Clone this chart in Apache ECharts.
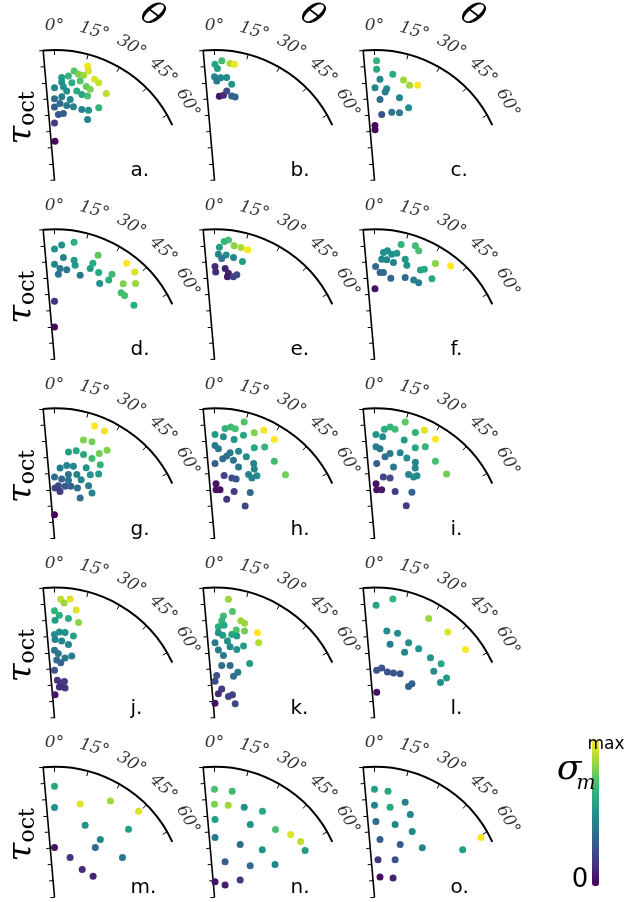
<!DOCTYPE html>
<html>
<head>
<meta charset="utf-8">
<script src="https://cdn.jsdelivr.net/npm/echarts@6/dist/echarts.min.js"></script>
<style>
html, body { margin: 0; padding: 0; background: #fff; }
#chart { width: 626px; height: 902px; }
</style>
</head>
<body>
<div id="chart"></div>
<script>
// Each point: [tau_oct, theta (deg), normalised sigma_m^max]
const panelA = [[7.31,16.2,0.98],[7.03,17.3,0.95],[6.82,10.2,0.72],[6.67,12.8,0.80],[6.46,7.6,0.65],[6.69,15.5,0.85],[6.32,4.0,0.55],[6.67,21.7,0.95],[6.58,24.4,0.92],[6.05,4.2,0.50],[6.08,10.1,0.62],[6.30,14.5,0.72],[5.68,0,0.45],[5.77,5.4,0.50],[6.07,18.8,0.75],[6.00,21.5,0.80],[5.53,7.8,0.50],[5.64,14.1,0.62],[6.21,30.9,0.90],[5.53,17.7,0.58],[5.55,21.5,0.70],[5.00,0,0.35],[5.14,5.0,0.42],[5.05,11.0,0.45],[4.72,4.1,0.35],[4.65,9.3,0.40],[4.65,14.5,0.45],[5.21,31.5,0.65],[4.50,0,0.30],[4.65,21.2,0.45],[4.78,26.0,0.50],[4.13,7.6,0.30],[4.04,3.4,0.28],[4.24,28.7,0.45],[3.51,0,0.18],[2.38,0.7,0.02]];
const panelB = [[7.13,0.2,0.60],[7.35,3.5,0.68],[7.23,7.6,0.88],[7.23,9.8,0.98],[6.86,1.5,0.55],[6.36,0,0.45],[6.10,1.3,0.40],[6.31,3.5,0.45],[6.35,6.8,0.48],[5.98,10.2,0.52],[5.17,3.3,0.05],[5.25,6.0,0.12],[5.53,7.8,0.22],[5.27,11.6,0.30],[5.26,14.0,0.32]];
const panelC = [[7.34,1.0,0.65],[6.82,1.1,0.60],[6.21,3.1,0.45],[6.60,9.8,0.62],[6.41,16.2,0.85],[6.21,20.3,0.85],[6.40,24.5,1.00],[5.68,0.3,0.45],[5.67,7.6,0.48],[5.45,6.9,0.42],[4.97,3.9,0.35],[5.29,16.9,0.45],[4.91,25.3,0.50],[4.31,14.3,0.38],[4.41,20.4,0.40],[4.05,6.3,0.25],[3.35,0.5,0.03],[3.10,0.6,0.02]];
const panelD = [[6.78,0,0.50],[7.04,3.6,0.50],[7.29,9.5,0.62],[5.85,0,0.45],[6.28,5.0,0.45],[5.59,3.5,0.40],[5.23,2.6,0.38],[5.55,7.8,0.40],[6.21,11.2,0.55],[5.92,12.4,0.52],[5.40,17.0,0.40],[6.00,21.5,0.55],[6.36,21.8,0.62],[6.94,22.7,0.75],[5.98,27.0,0.60],[5.43,30.8,0.50],[5.91,34.4,0.62],[6.31,34.1,0.68],[7.39,36.9,1.00],[7.30,42.6,0.95],[6.28,42.3,0.80],[6.82,47.0,0.85],[5.79,45.1,0.68],[5.83,47.7,0.70],[5.91,55.8,0.62],[3.57,0,0.15],[1.98,0,0.02]];
const panelE = [[7.38,6.7,0.70],[7.26,4.7,0.65],[6.89,2.5,0.55],[7.09,9.8,0.82],[7.07,13.3,0.88],[7.04,16.8,1.00],[6.47,2.1,0.45],[6.45,6.4,0.48],[6.21,4.1,0.40],[6.37,10.6,0.45],[6.25,16.0,0.55],[5.70,0.3,0.12],[5.37,0.8,0.12],[5.62,6.7,0.10],[5.36,9.2,0.10],[5.14,8.9,0.08],[5.21,12.9,0.20],[5.37,14.8,0.22]];
const panelF = [[7.24,13.1,0.65],[7.42,19.8,0.68],[7.20,22.2,0.70],[6.59,4.8,0.48],[6.72,6.8,0.50],[6.55,9.3,0.50],[6.67,11.9,0.52],[6.17,4.1,0.45],[6.16,7.0,0.45],[6.06,11.1,0.45],[6.44,17.1,0.52],[6.12,19.0,0.50],[6.18,27.2,0.58],[6.33,29.0,0.60],[6.98,32.5,0.82],[7.41,39.2,1.00],[5.70,0.7,0.35],[5.34,3.7,0.30],[5.36,5.9,0.35],[5.08,11.4,0.32],[5.37,20.6,0.35],[5.44,26.3,0.42],[5.44,30.0,0.42],[6.09,35.5,0.60],[4.34,0.4,0.05]];
const panelG = [[7.35,19.6,1.00],[7.29,24.9,0.98],[6.31,16.4,0.80],[6.38,21.2,0.78],[5.38,9.2,0.55],[5.56,13.9,0.60],[5.47,19.1,0.60],[5.91,27.8,0.78],[6.32,30.8,0.80],[5.43,25.1,0.68],[5.33,31.9,0.65],[4.35,4.5,0.42],[4.55,9.5,0.45],[4.59,14.7,0.45],[4.76,24.2,0.50],[4.02,12.3,0.38],[4.16,19.3,0.45],[4.50,29.3,0.50],[4.81,34.4,0.55],[3.78,0,0.35],[3.68,6.9,0.32],[3.68,13.5,0.38],[3.97,24.4,0.45],[3.25,4.2,0.22],[3.10,0.6,0.20],[2.91,6.7,0.18],[3.27,11.5,0.28],[3.36,17.4,0.32],[3.41,24.5,0.35],[3.86,32.9,0.42],[3.62,39.6,0.45],[2.94,32.5,0.35],[1.45,0,0.02]];
const panelH = [[7.40,14.3,0.72],[6.79,5.5,0.65],[6.93,8.3,0.68],[6.87,10.7,0.70],[6.40,0.3,0.55],[6.28,5.0,0.48],[6.21,11.2,0.50],[6.59,15.7,0.60],[6.95,20.6,0.80],[7.31,24.5,0.98],[7.12,31.2,1.00],[5.72,0.3,0.42],[5.52,2.5,0.40],[6.09,23.7,0.60],[6.41,28.8,0.65],[5.36,10.3,0.40],[5.12,8.5,0.38],[4.92,5.9,0.35],[5.57,15.4,0.45],[5.39,21.3,0.48],[4.95,13.6,0.38],[4.61,0.4,0.30],[4.64,18.6,0.40],[5.20,27.6,0.45],[4.93,29.8,0.45],[6.01,37.8,0.68],[4.45,28.1,0.45],[4.66,34.1,0.48],[4.37,31.8,0.45],[5.87,48.1,0.78],[3.91,8.7,0.20],[3.87,16.0,0.22],[3.89,20.0,0.25],[3.37,1.6,0.05],[3.00,1.8,0.05],[3.01,6.5,0.05],[3.13,22.7,0.18],[3.58,37.9,0.33],[2.53,17.3,0.15],[2.75,43.3,0.22]];
const panelI = [[6.40,0.8,0.52],[6.74,5.2,0.62],[6.93,8.0,0.65],[6.83,10.7,0.68],[7.41,14.8,0.75],[6.28,4.6,0.48],[6.32,16.8,0.55],[6.98,21.1,0.65],[7.33,24.8,0.95],[7.16,31.6,1.00],[5.64,0.9,0.42],[5.53,3.5,0.40],[6.12,24.2,0.60],[6.45,29.0,0.65],[5.31,10.4,0.40],[5.50,16.7,0.45],[5.06,7.4,0.36],[5.34,21.9,0.48],[4.61,1.7,0.30],[4.55,14.9,0.40],[5.32,28.2,0.45],[5.01,30.0,0.45],[6.05,38.3,0.70],[4.45,28.1,0.45],[4.48,32.5,0.47],[4.66,34.1,0.47],[5.95,48.2,0.78],[3.82,8.2,0.20],[3.84,14.5,0.23],[3.37,1.6,0.05],[3.00,2.6,0.05],[3.03,8.4,0.07],[3.16,23.7,0.18],[3.65,39.1,0.32],[2.80,44.3,0.18]];
const panelJ = [[7.30,3.0,0.90],[7.36,7.5,0.95],[7.07,4.8,0.85],[6.76,11.4,0.95],[6.57,0,0.65],[6.31,2.7,0.62],[6.16,8.0,0.62],[6.03,14.2,0.82],[5.99,0.3,0.55],[5.28,3.3,0.50],[5.12,0,0.48],[5.27,7.1,0.50],[5.15,13.1,0.58],[4.81,0.4,0.45],[4.73,5.4,0.45],[4.58,10.8,0.45],[4.15,0,0.38],[3.95,3.4,0.38],[3.73,10.0,0.38],[3.93,15.7,0.42],[3.54,2.2,0.35],[3.39,6.5,0.33],[2.91,0,0.25],[2.30,4.4,0.15],[2.17,10.7,0.15],[2.31,15.3,0.17],[1.90,9.1,0.13],[1.93,19.7,0.15],[1.40,1.3,0.05]];
const panelK = [[7.34,6.7,0.85],[6.62,9.6,0.72],[6.28,5.0,0.68],[5.97,4.3,0.65],[5.60,2.4,0.62],[5.71,5.9,0.60],[6.17,15.2,0.85],[6.09,17.7,0.85],[5.56,13.9,0.72],[5.64,19.1,0.78],[5.86,26.9,1.00],[5.35,30.5,0.88],[5.23,2.6,0.52],[5.09,5.7,0.55],[5.23,11.7,0.58],[5.20,15.3,0.55],[4.61,0.4,0.42],[4.78,9.6,0.48],[4.46,12.4,0.47],[4.75,22.1,0.55],[4.41,18.1,0.50],[4.16,3.3,0.42],[3.86,8.2,0.40],[3.97,33.0,0.55],[3.23,7.9,0.35],[3.34,16.7,0.35],[3.14,27.2,0.40],[2.80,24.7,0.36],[2.59,3.0,0.25],[2.23,0.8,0.22],[1.81,14.2,0.18],[1.49,9.2,0.12],[1.56,33.4,0.20],[1.79,38.2,0.20],[1.53,56.3,0.22],[0.89,2.0,0.05]];
const panelL = [[6.92,0.8,0.58],[7.38,8.8,0.65],[5.38,8.1,0.48],[5.38,15.3,0.48],[4.61,12.0,0.42],[5.06,24.5,0.48],[4.43,24.7,0.45],[5.03,32.7,0.50],[6.95,28.7,0.85],[6.94,40.6,0.95],[7.00,53.2,1.00],[5.04,43.1,0.52],[5.27,51.1,0.60],[4.63,52.0,0.48],[4.60,61.9,0.48],[5.06,61.2,0.55],[2.92,2.6,0.25],[3.09,8.3,0.25],[2.92,15.8,0.25],[2.99,23.0,0.25],[3.13,30.3,0.25],[2.84,47.5,0.30],[3.11,47.8,0.30],[1.56,5.0,0.05]];
const panelM = [[6.80,0,0.60],[5.50,0,0.50],[5.92,15.5,0.95],[6.82,30.3,0.85],[7.38,44.5,0.95],[4.79,23.2,0.50],[6.17,47.6,0.55],[4.52,38.6,0.45],[3.04,0,0.05],[2.60,21.7,0.15],[3.94,39.6,0.35],[4.83,60.0,0.40],[2.39,45.5,0.12],[2.69,62.0,0.10]];
const panelN = [[6.62,0,0.70],[6.59,9.5,0.68],[5.69,0,0.80],[5.69,8.5,0.85],[5.80,18.4,0.50],[6.03,29.3,0.60],[4.76,0.4,0.55],[4.97,26.3,0.50],[5.59,42.2,0.70],[6.05,50.7,0.95],[6.30,57.3,0.90],[3.65,0.5,0.40],[3.58,26.2,0.35],[4.13,45.4,0.50],[2.25,16.8,0.30],[2.91,49.0,0.35],[4.22,62.0,0.45],[0.92,2.0,0.05],[0.98,41.7,0.08],[1.89,56.6,0.15],[6.26,63.0,0.55]];
const panelO = [[6.62,0,0.55],[6.55,7.3,0.60],[5.63,0,0.45],[5.59,9.9,0.60],[6.11,18.0,0.45],[5.53,23.5,0.45],[4.64,1.1,0.35],[4.63,15.9,0.45],[4.64,30.0,0.45],[3.54,5.5,0.30],[3.58,26.2,0.30],[4.22,44.2,0.45],[2.29,5.4,0.15],[2.61,29.1,0.25],[1.27,15.5,0.03],[1.63,44.5,0.10],[6.15,61.9,0.55],[7.49,60.9,1.00]];

const panels = [panelA, panelB, panelC, panelD, panelE, panelF, panelG, panelH, panelI,
                panelJ, panelK, panelL, panelM, panelN, panelO];
const panelLetters = ['a.', 'b.', 'c.', 'd.', 'e.', 'f.', 'g.', 'h.', 'i.', 'j.', 'k.', 'l.', 'm.', 'n.', 'o.'];
const angleTicks = [0, 15, 30, 45, 60];
const thetaRange = [-5, 65];
const tauRange = [0, 8];
const sigmaRange = [0, 1];
const viridis = ['#440154', '#472d7b', '#3b528b', '#2c728e', '#21918c', '#28ae80', '#5ec962', '#addc30', '#fde725'];

// grid layout of the 5 x 3 sector plots
const NCOLS = 3;
const originX = 54.5, originY = 180;
const stepX = 160, stepY = 179.2;
const R = 130;
const labelGap = 24;

const chart = echarts.init(document.getElementById('chart'), null, { renderer: 'canvas' });

const polar = [], angleAxis = [], radiusAxis = [], series = [], labelSeries = [], graphic = [];

panels.forEach((data, i) => {
  const col = i % NCOLS, row = Math.floor(i / NCOLS);
  const cx = originX + col * stepX, cy = originY + row * stepY;
  polar.push({ center: [cx, cy], radius: R });
  angleAxis.push({
    polarIndex: i, type: 'value', min: thetaRange[0], max: thetaRange[1],
    startAngle: 90 - thetaRange[0], endAngle: 90 - thetaRange[1], clockwise: true,
    axisLine: { show: true, lineStyle: { color: '#000', width: 2 } },
    axisTick: { show: true, inside: true, length: 5, customValues: angleTicks, lineStyle: { color: '#000', width: 1 } },
    axisLabel: { show: false }, splitLine: { show: false }
  });
  radiusAxis.push({
    polarIndex: i, type: 'value', min: tauRange[0], max: tauRange[1], interval: 1,
    axisLine: { show: true, lineStyle: { color: '#000', width: 1.6 } },
    axisTick: { show: true, inside: false, length: 4, lineStyle: { color: '#000', width: 1 } },
    axisLabel: { show: false }, splitLine: { show: false }
  });
  series.push({
    type: 'scatter', coordinateSystem: 'polar', polarIndex: i,
    data: data, symbolSize: 7, silent: true,
    itemStyle: { opacity: 1 }
  });
  const labelR = tauRange[1] * (R + labelGap) / R;
  labelSeries.push({
    type: 'scatter', coordinateSystem: 'polar', polarIndex: i, silent: true, clip: false,
    symbolSize: 1, itemStyle: { color: 'rgba(0,0,0,0)' },
    data: angleTicks.map(t => ({ value: [labelR, t], label: { rotate: -t } })),
    label: {
      show: true, position: 'inside', color: '#000', fontSize: 17,
      fontFamily: 'DejaVu Serif', fontStyle: 'italic',
      formatter: p => p.value[1] + '°'
    }
  });
  graphic.push({
    type: 'text', x: cx + 76, y: cy - 9, silent: true,
    style: { text: panelLetters[i], fontFamily: 'DejaVu Sans', fontSize: 20, fill: '#000', align: 'left', verticalAlign: 'middle' }
  });
  if (row === 0) {
    graphic.push({
      type: 'text', x: cx + 97, y: 16, rotation: -0.65, silent: true,
      style: { text: 'θ', fontFamily: 'DejaVu Serif', fontStyle: 'italic', fontSize: 33, fill: '#000', align: 'center', verticalAlign: 'middle' }
    });
  }
  if (col === 0) {
    graphic.push({
      type: 'text', x: 22, y: cy - 62, rotation: Math.PI / 2, silent: true,
      style: {
        text: '{t|τ}{s|oct}', align: 'center', verticalAlign: 'middle',
        rich: {
          t: { fontFamily: 'DejaVu Serif', fontStyle: 'italic', fontSize: 34, fill: '#000', lineHeight: 34 },
          s: { fontFamily: 'DejaVu Serif', fontSize: 22, fill: '#000', verticalAlign: 'bottom', lineHeight: 22 }
        }
      }
    });
  }
});

// colour bar annotations
graphic.push({
  type: 'text', x: 569, y: 770, silent: true, z: 100,
  style: { text: 'σ', fontFamily: 'DejaVu Serif', fontStyle: 'italic', fontSize: 36, fill: '#000', align: 'center', verticalAlign: 'middle' }
});
graphic.push({
  type: 'text', x: 586, y: 784, silent: true, z: 100,
  style: { text: 'm', fontFamily: 'DejaVu Serif', fontStyle: 'italic', fontSize: 20, fill: '#000', align: 'center', verticalAlign: 'middle' }
});
graphic.push({
  type: 'text', x: 606, y: 745, silent: true, z: 100,
  style: { text: 'max', fontFamily: 'DejaVu Sans', fontSize: 17, fill: '#000', align: 'center', verticalAlign: 'middle' }
});
graphic.push({
  type: 'text', x: 580, y: 880, silent: true, z: 100,
  style: { text: '0', fontFamily: 'DejaVu Sans', fontSize: 26, fill: '#000', align: 'center', verticalAlign: 'middle' }
});

chart.setOption({
  animation: false,
  backgroundColor: '#fff',
  polar, angleAxis, radiusAxis,
  visualMap: {
    type: 'continuous', min: sigmaRange[0], max: sigmaRange[1], dimension: 2,
    seriesIndex: panels.map((_, i) => i),
    inRange: { color: viridis },
    orient: 'vertical', left: 592, top: 740, itemWidth: 7, itemHeight: 146,
    padding: 0, calculable: false, text: null, showLabel: false, hoverLink: false
  },
  series: series.concat(labelSeries),
  graphic
});
</script>
